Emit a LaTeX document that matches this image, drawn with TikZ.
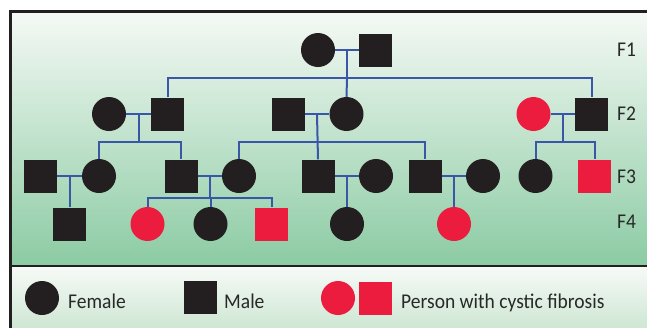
\documentclass[tikz,border=0pt]{standalone}
\usepackage{fontspec}
\setmainfont{Carlito}[FakeStretch=0.93]
\usetikzlibrary{calc}
\definecolor{linkblue}{RGB}{58,86,166}
\definecolor{cfred}{RGB}{236,28,62}
\definecolor{inkblack}{RGB}{35,31,32}
\definecolor{boxtop}{RGB}{245,249,245}
\definecolor{boxbottom}{RGB}{139,203,163}
\definecolor{keytop}{RGB}{247,250,247}
\definecolor{keybottom}{RGB}{198,227,204}
\definecolor{labelgrey}{RGB}{40,40,40}
\tikzset{
  female/.style={circle, fill=inkblack, draw=none, minimum size=34bp, inner sep=0pt},
  male/.style={rectangle, fill=inkblack, draw=none, minimum size=33bp, inner sep=0pt},
  affected/.style={fill=cfred},
  link/.style={draw=linkblue, line width=2bp},
  genlabel/.style={anchor=base west, inner sep=0pt, text=labelgrey, font=\fontsize{21bp}{24bp}\selectfont},
  keytext/.style={anchor=base west, inner sep=0pt, text=labelgrey, font=\fontsize{21bp}{24bp}\selectfont},
}
\begin{document}
\begin{tikzpicture}[x=1bp, y=-1bp]
\useasboundingbox (0,0) rectangle (647,327);

% framed panels with vertical colour gradient
\shade[top color=boxtop, bottom color=boxbottom] (10.5,11.5) rectangle (660,266);
\shade[top color=keytop, bottom color=keybottom] (10.5,266) rectangle (660,340);
\draw[line width=2.5bp, inkblack] (660,11.5) -- (10.5,11.5) -- (10.5,340);
\draw[line width=2bp, inkblack] (10.5,266) -- (660,266);

% generation F1
\node[female] (f1a) at (318,50) {};
\node[male]   (f1b) at (375.5,50) {};

% generation F2
\node[female] (f2a) at (109,114) {};
\node[male]   (f2b) at (167.5,114) {};
\node[male]   (f2c) at (288,114) {};
\node[female] (f2d) at (346.5,114) {};
\node[female, affected] (f2e) at (533.5,114) {};
\node[male]   (f2f) at (591.5,114) {};

% generation F3
\node[male]   (f3a) at (40.5,176) {};
\node[female] (f3b) at (99,176) {};
\node[male]   (f3c) at (181,176) {};
\node[female] (f3d) at (239,176) {};
\node[male]   (f3e) at (318,176) {};
\node[female] (f3f) at (376,176) {};
\node[male]   (f3g) at (425,176) {};
\node[female] (f3h) at (483,176) {};
\node[female] (f3i) at (535.5,176) {};
\node[male, affected] (f3j) at (594.5,176) {};

% generation F4
\node[male]   (f4a) at (69,224) {};
\node[female, affected] (f4b) at (147.5,224) {};
\node[female] (f4c) at (210.5,224) {};
\node[male, affected] (f4d) at (271.5,224) {};
\node[female] (f4e) at (347,224) {};
\node[female, affected] (f4f) at (454,224) {};

% marriage lines and the points where descent lines leave them
\draw[link] (f1a.east) -- (f1b.west);
\draw[link] (f2a.east) -- (f2b.west);
\draw[link] (f2c.east) -- (f2d.west);
\draw[link] (f2e.east) -- (f2f.west);
\draw[link] (f3a.east) -- (f3b.west);
\draw[link] (f3c.east) -- (f3d.west);
\draw[link] (f3e.east) -- (f3f.west);
\draw[link] (f3g.east) -- (f3h.west);
\coordinate (m1)  at ($(f1a.east)!0.5!(f1b.west)$);
\coordinate (m2a) at ($(f2a.east)!0.5!(f2b.west)$);
\coordinate (m2c) at ($(f2c.east)!0.5!(f2d.west)$);
\coordinate (m2e) at ($(f2e.east)!0.5!(f2f.west)$);
\coordinate (m3a) at ($(f3a.east)!0.5!(f3b.west)$);
\coordinate (m3c) at ($(f3c.east)!0.5!(f3d.west)$);
\coordinate (m3e) at ($(f3e.east)!0.5!(f3f.west)$);
\coordinate (m3g) at ($(f3g.east)!0.5!(f3h.west)$);

% children of F1
\draw[link] (m1) -- (m1 |- 0,78);
\draw[link] (f2b.north) -- (f2b.north |- 0,78) -- (f2f.north |- 0,78) -- (f2f.north);
\draw[link] (m1 |- 0,78) -- (f2d.north);

% children of F2 couples
\draw[link] (m2a) -- (m2a |- 0,142);
\draw[link] (f3b.north) -- (f3b.north |- 0,142) -- (f3c.north |- 0,142) -- (f3c.north);
\draw[link] (m2c) -- (f3e.north);
\draw[link] (f3d.north) -- (f3d.north |- 0,142) -- (f3g.north |- 0,142) -- (f3g.north);
\draw[link] (m2e) -- (m2e |- 0,142);
\draw[link] (f3i.north) -- (f3i.north |- 0,142) -- (f3j.north |- 0,142) -- (f3j.north);

% children of F3 couples
\draw[link] (m3a) -- (m3a |- f4a.north);
\draw[link] (m3c) -- (m3c |- 0,198);
\draw[link] (f4b.north) -- (f4b.north |- 0,198) -- (f4d.north |- 0,198) -- (f4d.north);
\draw[link] (f4c.north |- 0,198) -- (f4c.north);
\draw[link] (m3e) -- (m3e |- f4e.north);
\draw[link] (m3g) -- (m3g |- f4f.north);

% generation labels
\node[genlabel] (g1) at (617,56)  {F1};
\node[genlabel] (g2) at (617,120) {F2};
\node[genlabel] (g3) at (617,183) {F3};
\node[genlabel] (g4) at (617,228.5) {F4};

% key
\node[female] (kf) at (42,298) {};
\node[keytext] (kft) at (68,308.5) {Female};
\node[male] (km) at (200,297.5) {};
\node[keytext] (kmt) at (224,308.5) {Male};
\node[female, affected] (kcf) at (338,298) {};
\node[male, affected] (kcm) at (375,298) {};
\node[keytext] (kct) at (401,308.5) {Person with cystic fibrosis};
\end{tikzpicture}
\end{document}
